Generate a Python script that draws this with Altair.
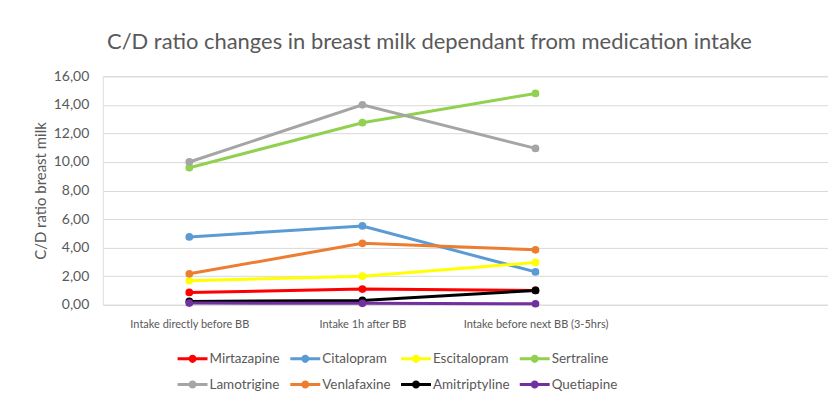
import altair as alt
import pandas as pd

categories = ["Intake directly before BB", "Intake 1h after BB", "Intake before next BB (3-5hrs)"]
series = ["Mirtazapine", "Citalopram", "Escitalopram", "Sertraline",
          "Lamotrigine", "Venlafaxine", "Amitriptyline", "Quetiapine"]
colors = ["#FF0000", "#5B9BD5", "#FFFF00", "#92D050",
          "#A5A5A5", "#ED7D31", "#000000", "#7030A0"]

mirtazapine = [0.86, 1.10, 1.00]
citalopram = [4.75, 5.52, 2.30]
escitalopram = [1.68, 2.00, 2.96]
sertraline = [9.60, 12.75, 14.80]
lamotrigine = [10.00, 14.00, 10.95]
venlafaxine = [2.17, 4.30, 3.85]
amitriptyline = [0.23, 0.30, 1.00]
quetiapine = [0.12, 0.10, 0.07]

values = [mirtazapine, citalopram, escitalopram, sertraline,
          lamotrigine, venlafaxine, amitriptyline, quetiapine]

rows = []
for si, (name, vals) in enumerate(zip(series, values)):
    for ci, v in enumerate(vals):
        rows.append({"drug": name, "order": si, "idx": ci, "cat": categories[ci], "value": v})
df = pd.DataFrame(rows)

label_expr = "[" + ",".join("'" + c + "'" for c in categories) + "][datum.value]"

FONT = "Lato"
GRAY = "#595959"

legend_shape = ("M-1,-0.1L1,-0.1L1,0.1L-1,0.1Z "
                "M-0.27,0A0.27,0.27 0 1,1 0.27,0A0.27,0.27 0 1,1 -0.27,0Z")

color = alt.Color(
    "drug:N",
    scale=alt.Scale(domain=series, range=colors),
    legend=alt.Legend(
        title=None, orient="none", legendX=75, legendY=268,
        columns=4, direction="horizontal",
        symbolType=legend_shape, symbolSize=900, symbolStrokeWidth=0,
        labelFont=FONT, labelFontSize=13.5, labelColor=GRAY,
        columnPadding=10, rowPadding=4, labelOffset=2,
    ),
)

x = alt.X("idx:Q", scale=alt.Scale(domain=[-0.5, 3.69], nice=False, zero=False),
          axis=alt.Axis(values=[0, 1, 2], labelExpr=label_expr, title=None,
                        grid=False, ticks=False, domain=False,
                        labelFont=FONT, labelFontSize=11, labelColor=GRAY, labelPadding=14))
y = alt.Y("value:Q", scale=alt.Scale(domain=[0, 16], nice=False),
          axis=alt.Axis(values=[0, 2, 4, 6, 8, 10, 12, 14, 16],
                        labelExpr="replace(format(datum.value, '.2f'), '.', ',')",
                        title="C/D ratio breast milk", titleFont=FONT, titleFontSize=15,
                        titleFontWeight="normal", titleColor=GRAY, titlePadding=5,
                        labelFont=FONT, labelFontSize=14, labelColor=GRAY, labelPadding=14,
                        grid=True, gridColor="#D9D9D9", gridWidth=1,
                        ticks=False, domain=False))

base = alt.Chart(df).encode(x=x, y=y, color=color, order=alt.Order("order:Q"))
lines = base.mark_line(strokeWidth=3)
points = base.mark_point(filled=True, size=60, opacity=1)

chart = alt.layer(lines, points).properties(
    width=727, height=229,
    autosize=alt.AutoSizeParams(type="none"),
    padding={"left": 95, "top": 68, "right": 0, "bottom": 88},
    title=alt.TitleParams(
        "C/D ratio changes in breast milk dependant from medication intake",
        font=FONT, fontSize=22, fontWeight="normal", color=GRAY,
        anchor="middle", dx=-36, offset=15,
    ),
).configure_view(stroke=None).configure(background="white")

chart.save("out.html", embed_options={"renderer": "svg", "actions": False})
